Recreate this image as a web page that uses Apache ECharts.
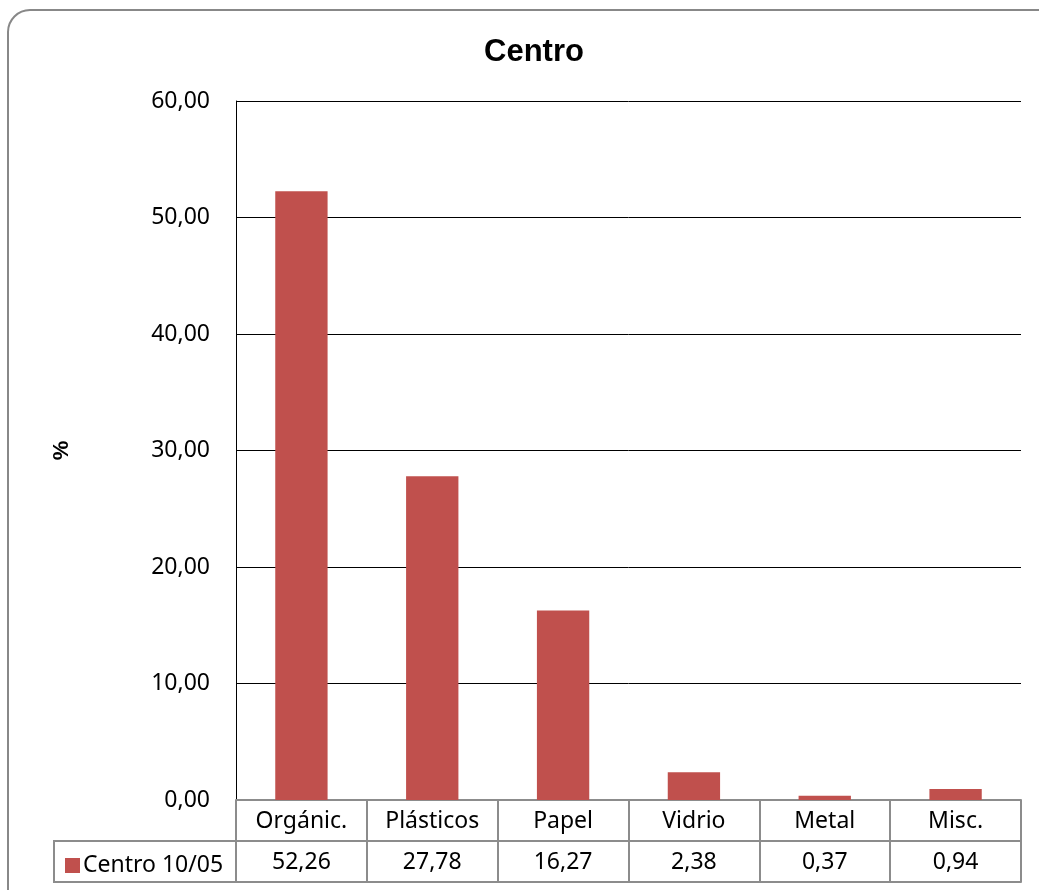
<!DOCTYPE html>
<html>
<head>
<meta charset="utf-8">
<script src="https://cdn.jsdelivr.net/npm/echarts@6/dist/echarts.min.js"></script>
<style>
html,body{margin:0;padding:0;background:#fff;}
#c{width:1039px;height:890px;}
</style>
</head>
<body>
<div id="c"></div>
<script>
var categories = ['Orgánic.', 'Plásticos', 'Papel', 'Vidrio', 'Metal', 'Misc.'];
var values = [52.26, 27.78, 16.27, 2.38, 0.37, 0.94];
var seriesName = 'Centro 10/05';
var titleText = 'Centro';
var yTicks = [0, 10, 20, 30, 40, 50, 60];

function fmt(v){ return v.toFixed(2).replace('.', ','); }

var FONT = '"Noto Sans", sans-serif';
var FS = 23;
var GRAYLINE = '#8c8c8c';
var chart = echarts.init(document.getElementById('c'), null, {renderer:'canvas'});

var gridL = 236, gridR = 1039 - 1021, gridT = 101, gridB = 890 - 800;

var option = {
  animation: false,
  backgroundColor: '#fff',
  title: {
    text: titleText, left: 529, top: 32, textAlign: 'center',
    textStyle: {fontFamily: 'Arial, "Liberation Sans", sans-serif', fontWeight: 'bold', fontSize: 31, color: '#000'}
  },
  legend: {
    data: [seriesName], left: 60, top: 849, icon: 'rect', itemWidth: 15, itemHeight: 15, itemGap: 5,
    textStyle: {fontFamily: FONT, fontSize: FS, color: '#000', padding: [0,0,0,-2]}
  },
  grid: {left: gridL, right: gridR, top: gridT, bottom: gridB, containLabel: false},
  xAxis: [
    {
      type: 'category', data: categories, position: 'bottom',
      axisLine: {show: true, lineStyle: {color: GRAYLINE, width: 2}},
      axisTick: {show: true, alignWithLabel: false, length: 41, lineStyle: {color: GRAYLINE, width: 2}},
      axisLabel: {margin: 10, fontFamily: FONT, fontSize: FS, color: '#000'},
      splitLine: {show: false}
    },
    {
      type: 'category', data: values.map(fmt), position: 'bottom', offset: 41,
      axisLine: {show: true, lineStyle: {color: GRAYLINE, width: 2}},
      axisTick: {show: true, alignWithLabel: false, length: 41, lineStyle: {color: GRAYLINE, width: 2}},
      axisLabel: {margin: 10, fontFamily: FONT, fontSize: FS, color: '#000'},
      splitLine: {show: false}
    },
    {
      type: 'category', data: categories, position: 'bottom', offset: 82,
      axisLine: {show: true, lineStyle: {color: GRAYLINE, width: 2}},
      axisTick: {show: false}, axisLabel: {show: false}, splitLine: {show: false}
    }
  ],
  yAxis: {
    type: 'value', min: yTicks[0], max: yTicks[yTicks.length-1], interval: 10,
    name: '%', nameLocation: 'middle', nameGap: 163, nameRotate: 90,
    nameTextStyle: {fontFamily: 'Arial, "Liberation Sans", sans-serif', fontWeight: 'bold', fontSize: 22, color: '#000'},
    axisLine: {show: true, lineStyle: {color: '#000', width: 1}},
    axisTick: {show: false},
    axisLabel: {margin: 26, fontFamily: FONT, fontSize: FS, color: '#000', formatter: function(v){return fmt(v);}},
    splitLine: {show: true, lineStyle: {color: '#000', width: 1}}
  },
  series: [{
    name: seriesName, type: 'bar', data: values, xAxisIndex: 0, barWidth: '40%',
    itemStyle: {color: '#C0504D'}
  }]
};
chart.setOption(option);

var x0 = chart.convertToPixel({xAxisIndex: 0}, categories[0]) - (1021 - 236) / categories.length / 2;
var yBase = chart.convertToPixel({yAxisIndex: 0}, 0);
chart.setOption({
  graphic: [
    {type: 'rect', shape: {x: 8, y: 10, width: 1080, height: 920, r: 22}, z: 100, silent: true,
     style: {fill: 'none', stroke: '#888', lineWidth: 2}},
    {type: 'rect', shape: {x: 54, y: yBase + 41, width: x0 - 54, height: 41}, z: 5, silent: true,
     style: {fill: 'none', stroke: GRAYLINE, lineWidth: 2}}
  ]
});
</script>
</body>
</html>
